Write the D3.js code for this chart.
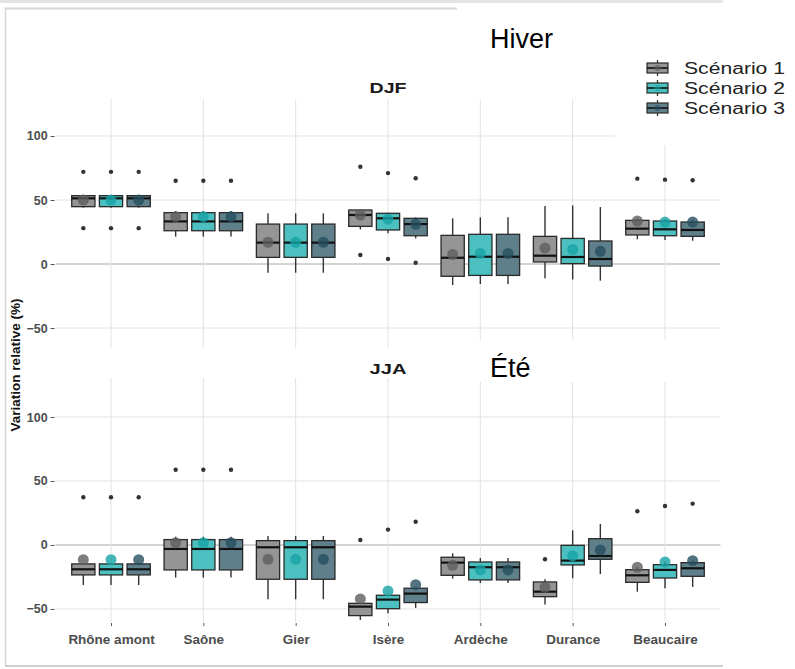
<!DOCTYPE html>
<html>
<head>
<meta charset="utf-8">
<script src="https://cdn.jsdelivr.net/npm/d3@7"></script>
<style>
  html, body { margin: 0; padding: 0; background: #fff; }
  svg { display: block; font-family: "Liberation Sans", Arial, sans-serif; }
</style>
</head>
<body>
<svg id="chart" width="795" height="669"></svg>
<script>
// ---------- DATA ----------
const categories = ["Rhône amont", "Saône", "Gier", "Isère", "Ardèche", "Durance", "Beaucaire"];
const scenarios = ["Scénario 1", "Scénario 2", "Scénario 3"];
const seasons = ["DJF", "JJA"];
const seasonTitles = ["Hiver", "Été"];
const yTicks = [-50, 0, 50, 100];

// five-number summaries per category: [lower whisker, Q1, median, Q3, upper whisker]
const djfScen1 = [[44, 44.8, 51.3, 53.4, 54], [21.4, 26, 33.3, 40.1, 41.4], [-6.8, 5.2, 16.7, 31.2, 39.6], [27, 29.4, 38.3, 42.2, 42.5], [-16.4, -9.6, 4.9, 22.4, 35.7], [-11.2, 1.6, 6.5, 21.6, 45.3], [19.3, 22.7, 27.6, 34.1, 35.6]];
const djfScen2 = [[44, 44.8, 51.3, 53.4, 54], [21.4, 26, 33.3, 40.1, 41.4], [-6.8, 5.2, 16.7, 31.2, 39.6], [24, 26.6, 35.7, 39.6, 40], [-15.6, -8.9, 5.7, 23.2, 36.5], [-12, 0.3, 5.5, 20, 45.8], [18.8, 22.1, 27.1, 33.6, 35]];
const djfScen3 = [[44, 44.8, 51.3, 53.4, 54], [21.4, 26, 33.3, 40.1, 41.4], [-6.8, 5.2, 16.7, 31.2, 39.6], [20, 22.1, 31.2, 35.7, 36.4], [-15.6, -8.9, 5.7, 23.2, 36.5], [-13, -1.6, 3.9, 18, 44.5], [18.2, 21.6, 26.6, 32.8, 34.5]];
const jjaScen1 = [[-31.3, -23.4, -19, -14.8, -14], [-25.5, -19.5, -3.1, 4.2, 6.5], [-42.4, -26.8, -1.8, 3.4, 7], [-58.6, -55.2, -48.2, -45.6, -45.6], [-26.3, -23.7, -13.8, -9.6, -6.5], [-46.6, -40.4, -36.5, -28.9, -26.8], [-36.5, -29.2, -23.7, -19.3, -17.4]];
const jjaScen2 = [[-31.3, -23.4, -19, -14.8, -14], [-25.5, -19.5, -3.1, 4.2, 6.5], [-42.4, -26.8, -1.8, 3.4, 7], [-53.4, -49.8, -42.7, -39.3, -39], [-29.7, -27.3, -17.4, -13.3, -10.2], [-26, -15.6, -12.2, -0.3, 11.5], [-33.8, -25.8, -19.5, -15.4, -13.3]];
const jjaScen3 = [[-31.3, -23.4, -19, -14.8, -14], [-25.5, -19.5, -3.1, 4.2, 6.5], [-42.4, -26.8, -1.8, 3.4, 7], [-49.2, -45, -38, -33.8, -33], [-29.7, -27.3, -17.4, -13.3, -10.2], [-22.7, -11.2, -8.6, 4.9, 16.4], [-32.8, -24.5, -18.2, -13.8, -12.3]];

// means per category
const djfMeans1 = [50, 37, 17, 38.3, 7.5, 12.5, 33.6];
const djfMeans2 = [50, 37, 17, 35, 8.3, 11.4, 32.8];
const djfMeans3 = [50, 37, 17, 31, 8.3, 9.9, 32.8];
const jjaMeans1 = [-11.5, 1.8, -11.2, -42.2, -15.9, -33.1, -17.4];
const jjaMeans2 = [-11.5, 1.8, -11.2, -35.9, -19.5, -8.6, -13.3];
const jjaMeans3 = [-11.5, 1.8, -11.2, -31, -19.5, -3.9, -12.3];

// outliers per category
const djfOut1 = [[72, 28], [65], [], [76, 7], [], [], [66.7]];
const djfOut2 = [[72, 28], [65], [], [71, 4], [], [], [65.9]];
const djfOut3 = [[72, 28], [65], [], [67, 1], [], [], [65.4]];
const jjaOut1 = [[37.3], [58.8], [], [3.9], [], [-11.2], [26.3]];
const jjaOut2 = [[37.3], [58.8], [], [12], [], [], [30.5]];
const jjaOut3 = [[37.3], [58.8], [], [18.2], [], [], [32.3]];

// ---------- STYLE ----------
const fillColors = ["#959595", "#4cc0c0", "#5f7f8b"];
const meanColors = ["#5e5e5e", "#17a3a5", "#264f5e"];

const svg = d3.select("#chart");
const plotLeft = 55.6, plotRight = 720.4;

// frame of the screenshot
svg.append("rect").attr("x", 0).attr("y", 0).attr("width", 723).attr("height", 3).attr("fill", "#e4e4e4");
svg.append("line").attr("x1", 5).attr("x2", 457).attr("y1", 8.5).attr("y2", 8.5).attr("stroke", "#d6d6d6").attr("stroke-width", 2);
svg.append("line").attr("x1", 5.5).attr("x2", 5.5).attr("y1", 8).attr("y2", 666).attr("stroke", "#d6d6d6").attr("stroke-width", 1.5);
svg.append("line").attr("x1", 5).attr("x2", 723).attr("y1", 666).attr("y2", 666).attr("stroke", "#cfcfcf").attr("stroke-width", 2);

const x = d3.scalePoint().domain(categories).range([plotLeft, plotRight]).padding(0.6);
const inner = d3.scaleBand().domain(scenarios).range([-41.5, 41.5]).paddingInner(0.16).paddingOuter(0.08);

const panels = [
  { name: seasons[0], top: 99, bottom: 348, domain: [-65.6, 128.9], boxes: [djfScen1, djfScen2, djfScen3], means: [djfMeans1, djfMeans2, djfMeans3], outs: [djfOut1, djfOut2, djfOut3], stripY: 93 },
  { name: seasons[1], top: 378, bottom: 622, domain: [-60.2, 130.5], boxes: [jjaScen1, jjaScen2, jjaScen3], means: [jjaMeans1, jjaMeans2, jjaMeans3], outs: [jjaOut1, jjaOut2, jjaOut3], stripY: 374 }
];

panels.forEach((p, pi) => {
  const y = d3.scaleLinear().domain(p.domain).range([p.bottom, p.top]);
  const g = svg.append("g");

  // grid
  g.selectAll(".hg").data(yTicks).join("line")
    .attr("x1", plotLeft).attr("x2", plotRight)
    .attr("y1", d => y(d)).attr("y2", d => y(d))
    .attr("stroke", d => d === 0 ? "#a8a8a8" : "#e2e2e2").attr("stroke-width", d => d === 0 ? 1.1 : 1);
  g.selectAll(".vg").data(categories).join("line")
    .attr("x1", d => x(d)).attr("x2", d => x(d))
    .attr("y1", p.top).attr("y2", p.bottom)
    .attr("stroke", "#e2e2e2").attr("stroke-width", 1);

  // y axis
  const ya = svg.append("g").attr("transform", `translate(${plotLeft - 1},0)`)
    .call(d3.axisLeft(y).tickValues(yTicks).tickSize(4).tickPadding(3));
  ya.select(".domain").remove();
  ya.selectAll(".tick line").attr("stroke", "#555");
  ya.selectAll(".tick text").attr("fill", "#4d4d4d").attr("font-size", "12.5px").attr("font-weight", "bold")
    .attr("font-family", "'Liberation Sans', Arial, sans-serif");

  // strip label
  svg.append("text").attr("x", (plotLeft + plotRight) / 2).attr("y", p.stripY)
    .attr("text-anchor", "middle").attr("font-size", "15px").attr("font-weight", "bold").attr("fill", "#1a1a1a")
    .attr("textLength", 37).attr("lengthAdjust", "spacingAndGlyphs")
    .text(p.name);

  // boxes
  scenarios.forEach((s, si) => {
    const bw = inner.bandwidth();
    const sg = svg.append("g");
    const rows = categories.map((c, ci) => ({ c, ci, v: p.boxes[si][ci], m: p.means[si][ci], o: p.outs[si][ci] }));
    const cx = d => x(d.c) + inner(s) + bw / 2;
    sg.selectAll(".wl").data(rows).join("line")
      .attr("x1", cx).attr("x2", cx).attr("y1", d => y(d.v[0])).attr("y2", d => y(d.v[1]))
      .attr("stroke", "#333").attr("stroke-width", 1.4);
    sg.selectAll(".wu").data(rows).join("line")
      .attr("x1", cx).attr("x2", cx).attr("y1", d => y(d.v[3])).attr("y2", d => y(d.v[4]))
      .attr("stroke", "#333").attr("stroke-width", 1.4);
    sg.selectAll(".bx").data(rows).join("rect")
      .attr("x", d => x(d.c) + inner(s)).attr("width", bw)
      .attr("y", d => y(d.v[3])).attr("height", d => y(d.v[1]) - y(d.v[3]))
      .attr("fill", fillColors[si]).attr("stroke", "#2a2a2a").attr("stroke-width", 1.3);
    sg.selectAll(".md").data(rows).join("line")
      .attr("x1", d => x(d.c) + inner(s)).attr("x2", d => x(d.c) + inner(s) + bw)
      .attr("y1", d => y(d.v[2])).attr("y2", d => y(d.v[2]))
      .attr("stroke", "#111").attr("stroke-width", 2.2);
    const outs = rows.flatMap(d => d.o.map(v => ({ c: d.c, v })));
    sg.selectAll(".ol").data(outs).join("circle")
      .attr("cx", cx).attr("cy", d => y(d.v)).attr("r", 2.2).attr("fill", "#333");
    sg.selectAll(".mn").data(rows).join("circle")
      .attr("cx", cx).attr("cy", d => y(d.m)).attr("r", 5.5)
      .attr("fill", meanColors[si]).attr("opacity", 0.8);
  });

  if (pi === panels.length - 1) {
    const xa = svg.append("g").attr("transform", `translate(0,${p.bottom + 1})`)
      .call(d3.axisBottom(x).tickSize(3).tickPadding(8));
    xa.select(".domain").remove();
    xa.selectAll(".tick line").attr("stroke", "#555");
    xa.selectAll(".tick text").attr("fill", "#4d4d4d").attr("font-size", "13.5px").attr("font-weight", "bold")
      .attr("font-family", "'Liberation Sans', Arial, sans-serif");
  }
});

// y axis title
svg.append("text")
  .attr("transform", "translate(20,365) rotate(-90)")
  .attr("text-anchor", "middle").attr("font-size", "13.5px").attr("font-weight", "bold").attr("fill", "#111")
  .text("Variation relative (%)");

// overlay white boxes (pasted titles / legend)
svg.append("rect").attr("x", 615).attr("y", 9).attr("width", 180).attr("height", 136).attr("fill", "#fff");
svg.append("rect").attr("x", 470).attr("y", 340).attr("width", 250).attr("height", 42).attr("fill", "#fff");
svg.append("rect").attr("x", 457).attr("y", 5).attr("width", 158).attr("height", 50).attr("fill", "#fff");

// season titles
svg.append("text").attr("x", 490).attr("y", 48).attr("font-size", "27px").attr("fill", "#000")
  .attr("font-family", "'Liberation Sans', Arial, sans-serif").text(seasonTitles[0]);
svg.append("text").attr("x", 490).attr("y", 377).attr("font-size", "27px").attr("fill", "#000")
  .attr("font-family", "'Liberation Sans', Arial, sans-serif").text(seasonTitles[1]);

// legend
const lg = svg.append("g");
const legY = d3.scalePoint().domain(scenarios).range([68, 108]);
scenarios.forEach((s, si) => {
  const cy = legY(s);
  lg.append("line").attr("x1", 657.5).attr("x2", 657.5).attr("y1", cy - 8).attr("y2", cy + 8).attr("stroke", "#333").attr("stroke-width", 1.3);
  lg.append("rect").attr("x", 647).attr("y", cy - 5).attr("width", 21).attr("height", 10)
    .attr("fill", fillColors[si]).attr("stroke", "#2a2a2a").attr("stroke-width", 1.2);
  lg.append("line").attr("x1", 647).attr("x2", 668).attr("y1", cy).attr("y2", cy).attr("stroke", "#111").attr("stroke-width", 1.6);
  lg.append("circle").attr("cx", 657.5).attr("cy", cy).attr("r", 3).attr("fill", meanColors[si]).attr("opacity", 0.6);
  lg.append("text").attr("x", 684).attr("y", cy + 6).attr("font-size", "16px").attr("fill", "#222")
    .attr("textLength", 101).attr("lengthAdjust", "spacingAndGlyphs").text(s);
});
</script>
</body>
</html>
